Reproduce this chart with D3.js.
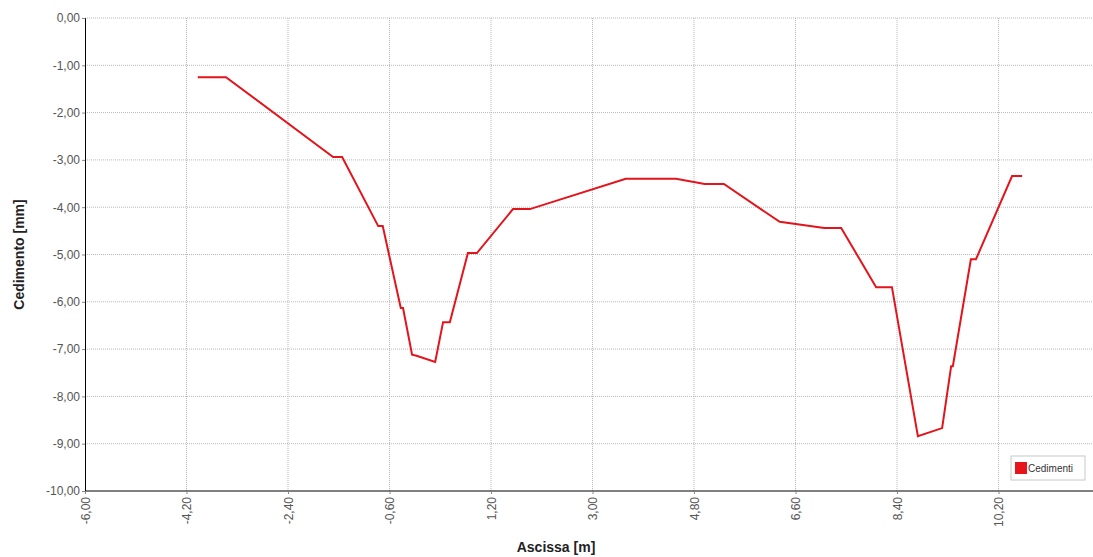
<!DOCTYPE html>
<html>
<head>
<meta charset="utf-8">
<script src="https://cdn.jsdelivr.net/npm/d3@7"></script>
<style>
  body { margin: 0; background: #fff; }
  #chart { width: 1093px; height: 557px; overflow: hidden; }
</style>
</head>
<body>
<div id="chart"></div>
<script>
// Values
const ascissa = [-4.0, -3.5, -1.6, -1.44, -0.8, -0.72, -0.4, -0.36, -0.2, -0.12, 0.21, 0.35, 0.47,
  0.79, 0.95, 1.59, 1.89, 3.59, 4.48, 4.99, 5.33, 6.32, 7.11, 7.41, 8.03, 8.31, 8.77, 9.2,
  9.36, 9.39, 9.71, 9.8, 10.44, 10.62];
const cedimenti = [-1.25, -1.25, -2.94, -2.94, -4.4, -4.4, -6.13, -6.13, -7.12, -7.14, -7.27, -6.43, -6.43,
  -4.97, -4.97, -4.04, -4.04, -3.4, -3.4, -3.51, -3.51, -4.31, -4.44, -4.44, -5.69, -5.69, -8.84, -8.67,
  -7.36, -7.36, -5.1, -5.1, -3.34, -3.34];
const xTicks = [-6.0, -4.2, -2.4, -0.6, 1.2, 3.0, 4.8, 6.6, 8.4, 10.2];
const yTicks = [0, -1, -2, -3, -4, -5, -6, -7, -8, -9, -10];
const seriesName = "Cedimenti";

const width = 1093, height = 557;
const margin = { top: 18, left: 85, bottom: 66 };

const svg = d3.select("#chart").append("svg")
    .attr("width", width)
    .attr("height", height)
    .style("font-family", "Arial, 'Liberation Sans', sans-serif");

// x domain continues past the right edge of the picture
const x = d3.scaleLinear().domain([-6, 12]).range([margin.left, margin.left + 18 * 56.39]);
const y = d3.scaleLinear().domain([-10, 0]).range([height - margin.bottom, margin.top]);

// comma decimals, plain hyphen for minus
const fmt = v => d3.format(".2f")(v).replace("\u2212", "-").replace(".", ",");

// Grid
svg.append("g")
    .selectAll("line")
    .data(yTicks.filter(d => d !== -10))
    .enter().append("line")
    .attr("x1", margin.left).attr("x2", width)
    .attr("y1", d => y(d)).attr("y2", d => y(d))
    .attr("stroke", "#b8b8b8")
    .attr("stroke-width", 1)
    .attr("stroke-dasharray", "1,1");

svg.append("g")
    .selectAll("line")
    .data(xTicks.filter(d => d !== -6))
    .enter().append("line")
    .attr("x1", d => x(d)).attr("x2", d => x(d))
    .attr("y1", margin.top).attr("y2", y(-10))
    .attr("stroke", "#b8b8b8")
    .attr("stroke-width", 1)
    .attr("stroke-dasharray", "1,1");

// Y axis
const yAxis = svg.append("g")
    .attr("transform", `translate(${margin.left},0)`)
    .call(d3.axisLeft(y).tickValues(yTicks).tickFormat(fmt).tickSize(3).tickPadding(2));
yAxis.select(".domain").attr("stroke", "#000");
yAxis.selectAll(".tick line").attr("stroke", "#888");
yAxis.selectAll("text").attr("fill", "#555").style("font-size", "12px");

// X axis
const xAxis = svg.append("g")
    .attr("transform", `translate(0,${y(-10)})`)
    .call(d3.axisBottom(x).tickValues(xTicks).tickFormat(fmt).tickSize(3));
xAxis.select(".domain").attr("stroke", "#000").attr("d", `M${margin.left},0H${width}`);
xAxis.selectAll(".tick line").attr("stroke", "#888");
xAxis.selectAll("text")
    .attr("fill", "#555")
    .style("font-size", "12px")
    .attr("transform", "rotate(-90)")
    .attr("text-anchor", "end")
    .attr("x", -6)
    .attr("y", 0)
    .attr("dy", "0.35em");

// Axis titles
svg.append("text")
    .attr("x", 556)
    .attr("y", 552)
    .attr("text-anchor", "middle")
    .style("font-size", "14px")
    .style("font-weight", "bold")
    .attr("fill", "#222")
    .text("Ascissa [m]");

svg.append("text")
    .attr("transform", "rotate(-90)")
    .attr("x", -(y(0) + y(-10)) / 2)
    .attr("y", 24)
    .attr("text-anchor", "middle")
    .style("font-size", "14px")
    .style("font-weight", "bold")
    .attr("fill", "#222")
    .text("Cedimento [mm]");

// Line
const line = d3.line()
    .x((d, i) => x(ascissa[i]))
    .y(d => y(d));

svg.append("path")
    .datum(cedimenti)
    .attr("fill", "none")
    .attr("stroke", "#e3141c")
    .attr("stroke-width", 2)
    .attr("stroke-linejoin", "miter")
    .attr("d", line);

// Legend
const legend = svg.append("g").attr("transform", "translate(1011,456)");
legend.append("rect")
    .attr("width", 74).attr("height", 24)
    .attr("fill", "#fff")
    .attr("stroke", "#c8c8c8");
legend.append("rect")
    .attr("x", 4).attr("y", 6)
    .attr("width", 12).attr("height", 12)
    .attr("fill", "#e8141c");
legend.append("text")
    .attr("x", 17).attr("y", 16)
    .style("font-size", "10px")
    .attr("fill", "#333")
    .text(seriesName);
</script>
</body>
</html>
